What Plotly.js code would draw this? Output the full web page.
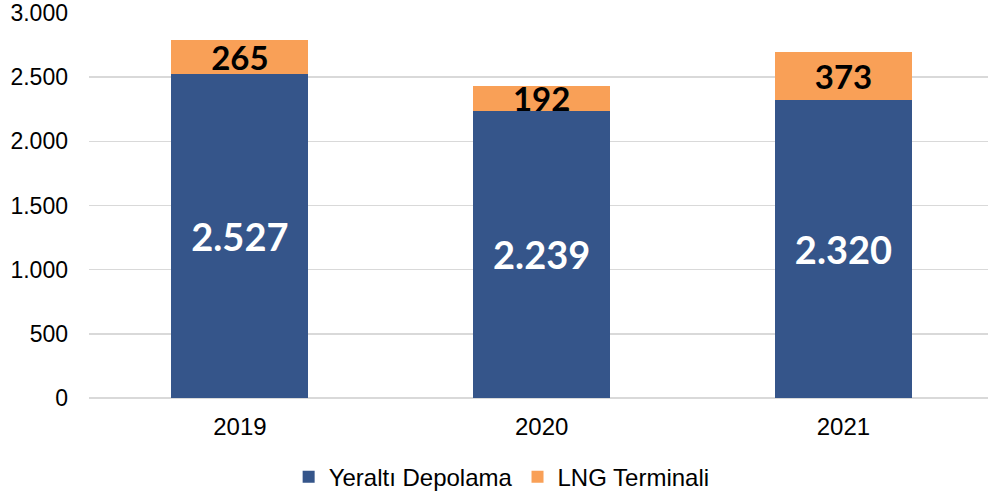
<!DOCTYPE html>
<html>
<head>
<meta charset="utf-8">
<script src="https://cdn.plot.ly/plotly-3.0.1.min.js"></script>
<style>html,body{margin:0;padding:0;background:#fff;}#chart{width:988px;height:494px;}</style>
</head>
<body>
<div id="chart"></div>
<script>
const years = ['2019', '2020', '2021'];
const yeraltiDepolama = [2527, 2239, 2320];
const lngTerminali = [265, 192, 373];
const seriesNames = ['Yeraltı Depolama', 'LNG Terminali'];
const yTickVals = [0, 500, 1000, 1500, 2000, 2500, 3000];

const labelFont = "Lato, 'Noto Sans', sans-serif";

const traces = [
  {
    type: 'bar', name: seriesNames[0], x: years, y: yeraltiDepolama,
    marker: {color: '#35558A'},
    texttemplate: '%{y:,.0f}', textposition: 'inside', insidetextanchor: 'middle',
    textangle: 0, constraintext: 'none',
    textfont: {family: labelFont, size: 38, color: '#ffffff', weight: 'bold'},
    hoverinfo: 'skip'
  },
  {
    type: 'bar', name: seriesNames[1], x: years, y: lngTerminali,
    marker: {color: '#F9A057'},
    texttemplate: '%{y:,.0f}', textposition: 'inside', insidetextanchor: 'middle',
    textangle: 0, constraintext: 'none',
    textfont: {family: labelFont, size: 33, color: '#000000', weight: 'bold'},
    hoverinfo: 'skip'
  }
];

const layout = {
  width: 988, height: 494,
  margin: {l: 89, r: 0, t: 13, b: 96},
  barmode: 'stack',
  bargap: 0.546,
  separators: ',.',
  paper_bgcolor: '#ffffff', plot_bgcolor: '#ffffff',
  font: {family: "'Liberation Sans', Arial, sans-serif", color: '#000000', size: 24},
  xaxis: {
    type: 'category', range: [-0.5, 2.479], automargin: false,
    showgrid: false, zeroline: false, showline: false,
    ticks: '', ticklabelstandoff: 12, tickfont: {size: 24, color: '#000000'}
  },
  yaxis: {
    range: [0, 3000], tickvals: yTickVals, tickformat: ',.0f', automargin: false,
    ticklabeloverflow: 'allow',
    showgrid: true, gridcolor: '#D9D9D9', gridwidth: 1.5,
    zeroline: true, zerolinecolor: '#D9D9D9', zerolinewidth: 1.5,
    showline: false, ticks: '', ticklabelstandoff: 20,
    tickfont: {size: 23, color: '#000000'}
  },
  showlegend: true,
  legend: {
    orientation: 'h', x: 0.459, xanchor: 'center',
    yref: 'container', y: 0.034, yanchor: 'middle',
    font: {size: 24, color: '#000000'},
    tracegroupgap: 0, traceorder: 'normal'
  }
};

Plotly.newPlot('chart', traces, layout, {displayModeBar: false, staticPlot: true});
</script>
</body>
</html>
